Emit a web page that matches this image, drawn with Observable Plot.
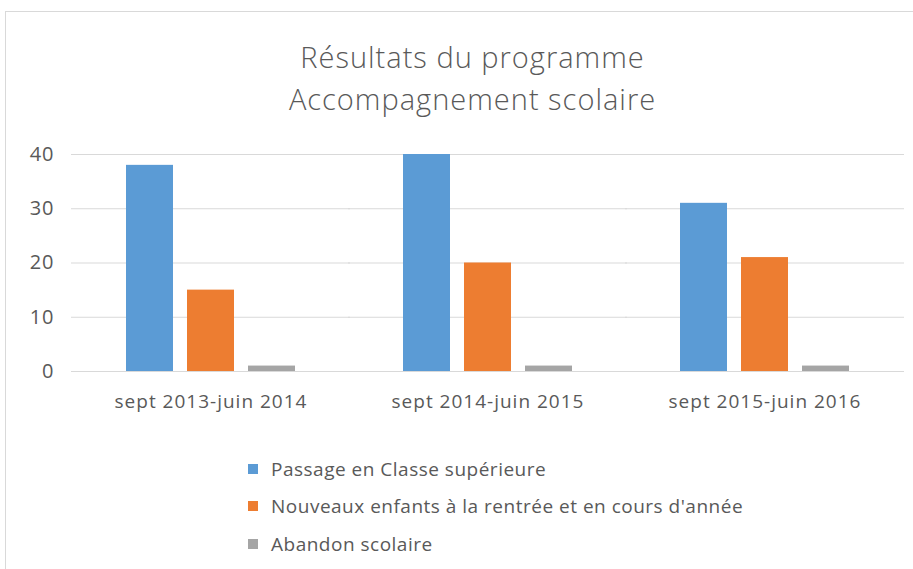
<!DOCTYPE html>
<html>
<head>
<meta charset="utf-8">
<script src="https://cdn.jsdelivr.net/npm/d3@7"></script>
<script src="https://cdn.jsdelivr.net/npm/@observablehq/plot@0.6"></script>
<style>
  html, body { margin: 0; padding: 0; background: #fff; overflow: hidden; }
  #wrap { position: relative; width: 913px; height: 569px; font-family: "Open Sans", sans-serif; color: #595959; }
  #frame { position: absolute; left: 5px; top: 11px; width: 940px; height: 620px; border: 1px solid #d9d9d9; box-sizing: border-box; }
  #title { position: absolute; left: 0; width: 945px; top: 36px; text-align: center; font-size: 29px; line-height: 42px; font-weight: 300; letter-spacing: 1px; color: #595959; }
  #chart { position: absolute; left: 0; top: 140px; }
  #chart svg g[aria-label="y-axis tick label"] text { font-size: 20px; letter-spacing: 1px; }
  #chart svg g[aria-label="fx-axis tick label"] text { font-size: 19px; letter-spacing: 1px; }
  #legend { position: absolute; left: 248px; top: 450px; font-size: 19px; letter-spacing: 0.5px; }
  .item { height: 37.5px; display: flex; align-items: center; }
  .sw { width: 10px; height: 10px; margin-right: 13px; flex: none; }
</style>
</head>
<body>
<div id="wrap">
  <div id="frame"></div>
  <div id="title">Résultats du programme<br>Accompagnement scolaire</div>
  <div id="chart"></div>
  <div id="legend"></div>
</div>
<script>
const periods = ["sept 2013-juin 2014", "sept 2014-juin 2015", "sept 2015-juin 2016"];
const seriesNames = ["Passage en Classe supérieure", "Nouveaux enfants à la rentrée et en cours d'année", "Abandon scolaire"];
const passage = [38, 40, 31];
const nouveaux = [15, 20, 21];
const abandon = [1, 1, 1];
const colors = ["#5B9BD5", "#ED7D31", "#A5A5A5"];
const yTicks = [0, 10, 20, 30, 40];

const seriesValues = [passage, nouveaux, abandon];
const data = periods.flatMap((p, i) => seriesNames.map((s, j) => ({period: p, series: s, value: seriesValues[j][i]})));

const chart = Plot.plot({
  width: 913,
  height: 280,
  marginTop: 14,
  marginBottom: 49,
  marginLeft: 71,
  marginRight: 10,
  style: {fontSize: "19px", fontFamily: "'Open Sans', sans-serif", color: "#595959", background: "transparent"},
  fx: {domain: periods, paddingInner: 0.39, paddingOuter: 0.195, label: null, tickSize: 0, tickPadding: 23},
  x: {domain: seriesNames, paddingInner: 0.23, paddingOuter: 0, axis: null},
  y: {domain: [0, 40], ticks: yTicks, tickSize: 0, tickPadding: 72, label: null},
  color: {domain: seriesNames, range: colors},
  marks: [
    Plot.ruleY(yTicks, {stroke: "#d9d9d9", strokeWidth: 1, insetLeft: -55, insetRight: -55}),
    Plot.barY(data, {fx: "period", x: "series", y: "value", fill: "series"})
  ]
});
document.getElementById("chart").appendChild(chart);

const legend = document.getElementById("legend");
seriesNames.forEach((s, i) => {
  const it = document.createElement("div");
  it.className = "item";
  const sw = document.createElement("div");
  sw.className = "sw";
  sw.style.background = colors[i];
  const t = document.createElement("span");
  t.textContent = s;
  it.appendChild(sw);
  it.appendChild(t);
  legend.appendChild(it);
});
</script>
</body>
</html>
